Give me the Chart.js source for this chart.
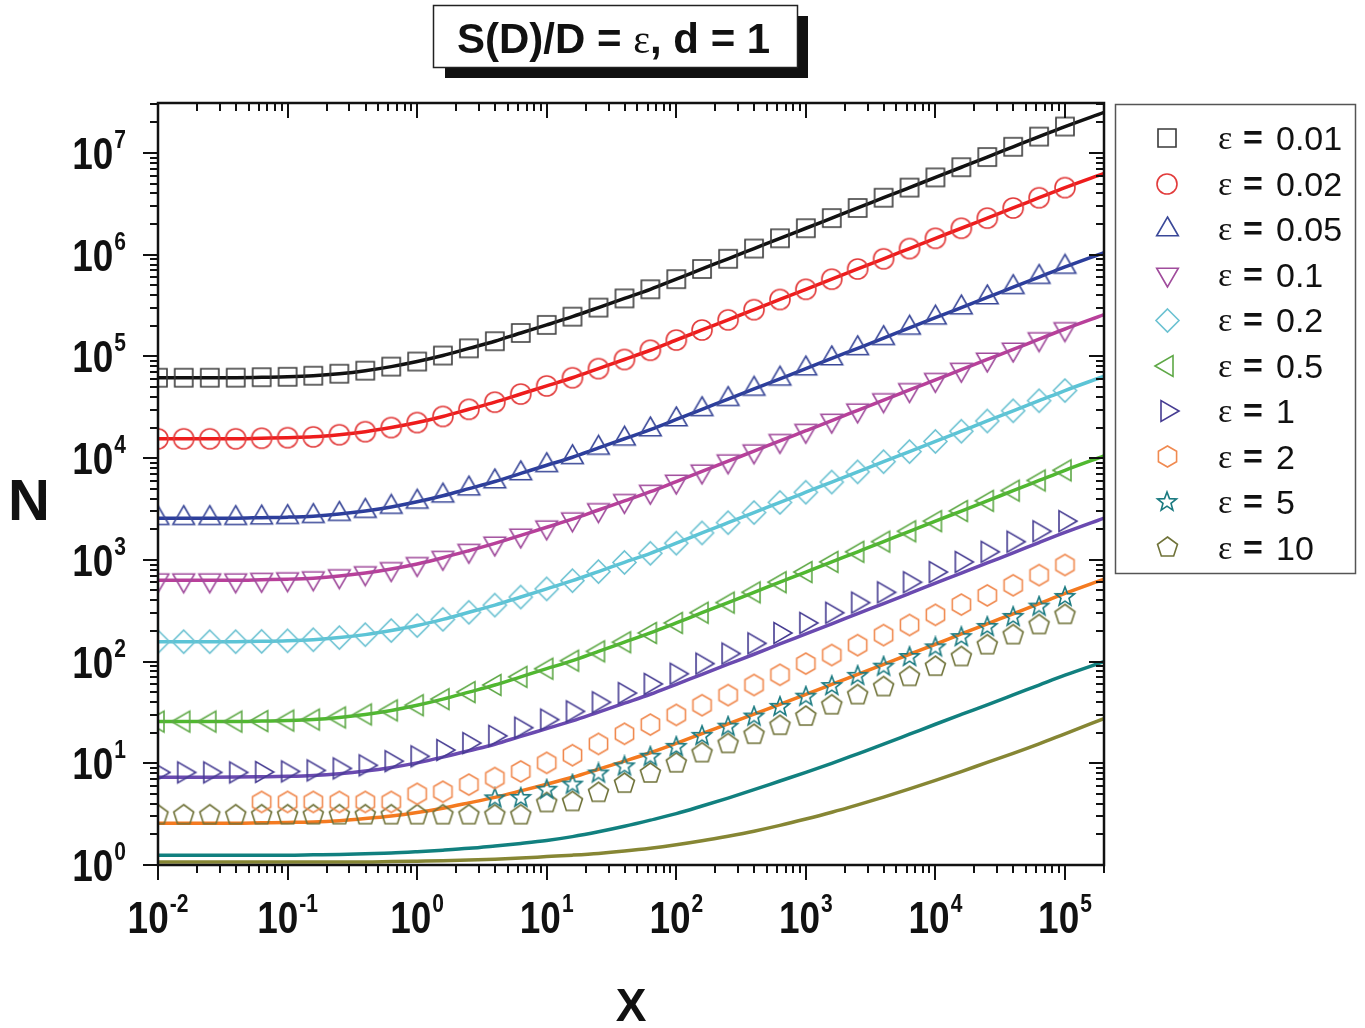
<!DOCTYPE html>
<html>
<head>
<meta charset="utf-8">
<title>S(D)/D = ε, d = 1</title>
<script src="https://cdn.jsdelivr.net/npm/chart.js@4.4.0/dist/chart.umd.min.js"></script>
<style>
  html, body { margin: 0; padding: 0; background: #fff; }
  #wrap { width: 1365px; height: 1028px; }
</style>
</head>
<body>
<div id="wrap"><canvas id="nChart" width="1365" height="1028"></canvas></div>
<script>
// x of the simulated points (0.2 decade steps), last value = right edge of the curves
var xValues = [0.01, 0.0158, 0.0251, 0.0398, 0.0631, 0.1, 0.158, 0.251, 0.398, 0.631,
  1, 1.58, 2.51, 3.98, 6.31, 10, 15.8, 25.1, 39.8, 63.1,
  100, 158, 251, 398, 631, 1000, 1585, 2512, 3981, 6310,
  10000, 15849, 25119, 39811, 63096, 100000, 200000];

var xTickExps = [-2, -1, 0, 1, 2, 3, 4, 5];
var yTickExps = [0, 1, 2, 3, 4, 5, 6, 7];
var epsLabels = ['0.01', '0.02', '0.05', '0.1', '0.2', '0.5', '1', '2', '5', '10'];

// curves with markers on them (eps = 0.01 ... 0.5)
var nEps001 = [61700, 61700, 61700, 61800, 62400, 63100, 64600, 67600, 72400, 79400, 89100, 102000, 120000, 141000, 170000, 204000, 246000, 302000, 372000, 457000, 575000, 724000, 912000, 1150000, 1450000, 1820000, 2290000, 2880000, 3630000, 4570000, 5750000, 7240000, 9120000, 11500000, 14500000, 18200000, 25100000];
var nEps002 = [15500, 15500, 15500, 15500, 15700, 15900, 16200, 17000, 18200, 20000, 22400, 25700, 30200, 35500, 42700, 51300, 61700, 75900, 93300, 115000, 145000, 182000, 229000, 288000, 363000, 457000, 575000, 724000, 912000, 1150000, 1450000, 1820000, 2290000, 2880000, 3630000, 4570000, 6310000];
var nEps005 = [2570, 2570, 2570, 2570, 2600, 2630, 2690, 2820, 3020, 3310, 3720, 4270, 5010, 5890, 7080, 8510, 10200, 12600, 15500, 19100, 24000, 30200, 38000, 47900, 60300, 75900, 95500, 120000, 151000, 191000, 240000, 302000, 380000, 479000, 603000, 759000, 1050000];
var nEps01 = [631, 631, 631, 631, 638, 646, 661, 692, 741, 813, 912, 1050, 1230, 1450, 1740, 2090, 2510, 3090, 3800, 4680, 5890, 7410, 9330, 11700, 14800, 18600, 23400, 29500, 37200, 46800, 58900, 74100, 93300, 117000, 148000, 186000, 257000];
var nEps02 = [157, 157, 157, 157, 158, 160, 164, 172, 184, 202, 226, 260, 305, 359, 431, 519, 624, 767, 944, 1160, 1460, 1840, 2320, 2920, 3670, 4620, 5820, 7330, 9230, 11600, 14600, 18400, 23200, 29200, 36700, 46200, 63800];
var nEps05 = [25.7, 25.7, 25.7, 25.7, 26.0, 26.3, 26.9, 28.2, 30.2, 33.1, 37.2, 42.7, 50.1, 58.9, 70.8, 85.1, 102, 126, 155, 191, 240, 302, 380, 479, 603, 759, 955, 1200, 1510, 1910, 2400, 3020, 3800, 4790, 6030, 7590, 10500];

// eps = 1, 2, 5, 10: markers and lines differ
var ptsEps1 = [8.13, 8.13, 8.13, 8.13, 8.22, 8.32, 8.51, 8.91, 9.55, 10.5, 11.7, 13.5, 15.8, 18.6, 22.4, 26.9, 32.4, 39.8, 49.0, 60.3, 75.9, 95.5, 120, 151, 191, 240, 302, 380, 479, 603, 759, 955, 1200, 1510, 1910, 2400];
var ptsEps2 = [4.17, 4.17, 4.17, 4.17, 4.17, 4.17, 5.01, 5.25, 6.17, 7.16, 8.32, 10.1, 12.0, 15.5, 19.5, 24.0, 29.9, 37.2, 46.8, 58.9, 74.1, 95.5, 116, 145, 182, 229, 288, 363, 447, 562, 708, 891];
var ptsEps5 = [4.52, 4.57, 5.50, 6.17, 7.94, 9.33, 11.6, 14.5, 18.6, 22.9, 28.8, 35.9, 45.2, 57.5, 72.4, 89.1, 111, 138, 174, 219, 275, 347, 432];
var ptsEps10 = [3.09, 3.09, 3.09, 3.09, 3.09, 3.09, 3.09, 3.09, 3.09, 3.09, 3.09, 3.09, 3.09, 3.09, 3.09, 4.07, 4.17, 5.13, 6.31, 7.94, 10.0, 12.6, 15.5, 19.1, 23.4, 28.8, 37.2, 46.8, 56.2, 70.8, 89.1, 111, 145, 182, 229, 288];

var lineEps1 = [7.30, 7.30, 7.30, 7.31, 7.37, 7.45, 7.60, 7.91, 8.40, 9.11, 10.1, 11.5, 13.3, 15.4, 18.4, 21.9, 26.1, 31.9, 39.0, 47.7, 59.8, 75.0, 94.2, 118, 149, 187, 235, 296, 372, 468, 589, 741, 933, 1170, 1480, 1860, 2570];
var lineEps2 = [2.58, 2.58, 2.58, 2.58, 2.60, 2.62, 2.65, 2.73, 2.86, 3.03, 3.28, 3.62, 4.08, 4.62, 5.35, 6.23, 7.29, 8.74, 10.5, 12.7, 15.7, 19.6, 24.4, 30.4, 38.0, 47.6, 59.7, 74.9, 94.0, 118, 148, 187, 235, 295, 371, 467, 645];
var lineEps5 = [1.25, 1.25, 1.25, 1.25, 1.25, 1.25, 1.26, 1.27, 1.29, 1.31, 1.35, 1.40, 1.46, 1.54, 1.63, 1.74, 1.90, 2.12, 2.40, 2.76, 3.20, 3.80, 4.55, 5.50, 6.70, 8.15, 10.0, 12.4, 15.4, 19.3, 24.2, 30.2, 37.6, 47.0, 58.8, 73.5, 100];
var lineEps10 = [1.07, 1.07, 1.07, 1.07, 1.07, 1.07, 1.07, 1.07, 1.07, 1.08, 1.09, 1.10, 1.12, 1.14, 1.17, 1.21, 1.25, 1.30, 1.37, 1.46, 1.58, 1.73, 1.92, 2.15, 2.45, 2.83, 3.30, 3.90, 4.65, 5.60, 6.79, 8.29, 10.2, 12.5, 15.5, 19.5, 27.5];

var FONT = '"Liberation Sans", Arial, Helvetica, sans-serif';

function toPoints(xs, ys) {
    var out = [];
    for (var i = 0; i < ys.length; i++) {
        out.push({ x: xs[i], y: ys[i] });
    }
    return out;
}

// hollow marker drawn on a small canvas, used as pointStyle
function makeMarker(shape, color, r) {
    var c = document.createElement('canvas');
    var s = Math.ceil(2 * r + 4);
    c.width = s;
    c.height = s;
    var g = c.getContext('2d');
    var m = s / 2;
    g.strokeStyle = color;
    g.lineWidth = 1.6;
    g.lineJoin = 'miter';
    g.beginPath();
    function poly(n, start, rad) {
        for (var i = 0; i < n; i++) {
            var a = start + i * 2 * Math.PI / n;
            var px = m + rad * Math.cos(a), py = m + rad * Math.sin(a);
            if (i === 0) g.moveTo(px, py); else g.lineTo(px, py);
        }
        g.closePath();
    }
    if (shape === 'square') {
        g.rect(m - r, m - r, 2 * r, 2 * r);
    } else if (shape === 'circle') {
        g.arc(m, m, r, 0, 2 * Math.PI);
    } else if (shape === 'up') {
        poly(3, -Math.PI / 2, r);
    } else if (shape === 'down') {
        poly(3, Math.PI / 2, r);
    } else if (shape === 'left') {
        poly(3, Math.PI, r);
    } else if (shape === 'right') {
        poly(3, 0, r);
    } else if (shape === 'diamond') {
        poly(4, -Math.PI / 2, r);
    } else if (shape === 'hexagon') {
        poly(6, -Math.PI / 2, r);
    } else if (shape === 'pentagon') {
        poly(5, -Math.PI / 2, r);
    } else if (shape === 'star') {
        for (var i = 0; i < 10; i++) {
            var a = -Math.PI / 2 + i * Math.PI / 5;
            var rr = i % 2 === 0 ? r : r * 0.42;
            var px = m + rr * Math.cos(a), py = m + rr * Math.sin(a);
            if (i === 0) g.moveTo(px, py); else g.lineTo(px, py);
        }
        g.closePath();
    }
    g.stroke();
    return c;
}

var markers = [
    makeMarker('square', '#3a3a3a', 9),
    makeMarker('circle', '#e23b3b', 10),
    makeMarker('up', '#3a4898', 12.5),
    makeMarker('down', '#a04c9c', 12.5),
    makeMarker('diamond', '#6cc2d2', 11.5),
    makeMarker('left', '#5ea846', 12),
    makeMarker('right', '#463c92', 12),
    makeMarker('hexagon', '#f08a50', 10.5),
    makeMarker('star', '#1a7a80', 10),
    makeMarker('pentagon', '#6f7238', 10.5)
];

var lineColors = ['#111111', '#ee1c1c', '#2c3e9c', '#b8409a', '#5cc4d6', '#50b830',
                  '#6a4ab0', '#f47a20', '#11807f', '#868634'];

function withLine(ys, i) {
    return {
        data: toPoints(xValues, ys),
        showLine: true,
        borderColor: lineColors[i],
        borderWidth: 3.5,
        pointStyle: markers[i],
        pointRadius: function (ctx) { return ctx.dataIndex < 36 ? 10 : 0; },
        cubicInterpolationMode: 'monotone',
        fill: false,
        clip: 0
    };
}

function onlyMarkers(xs, ys, i) {
    return {
        data: toPoints(xs, ys),
        showLine: false,
        pointStyle: markers[i],
        pointRadius: 10,
        clip: 0
    };
}

function onlyLine(ys, i) {
    return {
        data: toPoints(xValues, ys),
        showLine: true,
        borderColor: lineColors[i],
        borderWidth: 3.5,
        pointRadius: 0,
        cubicInterpolationMode: 'monotone',
        fill: false,
        clip: 0
    };
}

function powLabel(ctx, exp, x, baseline, align) {
    var sx = 0.84;
    ctx.font = 'bold 44px ' + FONT;
    var wb = ctx.measureText('10').width * sx;
    ctx.font = 'bold 25px ' + FONT;
    var es = String(exp);
    var we = ctx.measureText(es).width * sx;
    var total = wb + 1 + we;
    var x0 = align === 'center' ? x - total / 2 : x - total;
    ctx.save();
    ctx.translate(x0, baseline);
    ctx.scale(sx, 1);
    ctx.textAlign = 'left';
    ctx.textBaseline = 'alphabetic';
    ctx.font = 'bold 44px ' + FONT;
    ctx.fillText('10', 0, 0);
    ctx.font = 'bold 25px ' + FONT;
    ctx.fillText(es, (wb + 1) / sx, -21);
    ctx.restore();
}

var decorations = {
    id: 'decorations',
    afterDraw: function (chart) {
        var ctx = chart.ctx, a = chart.chartArea;
        var xs = chart.scales.x, ys = chart.scales.y;
        ctx.save();
        ctx.fillStyle = '#111';
        ctx.strokeStyle = '#111';

        // ticks, log minors
        ctx.lineWidth = 2;
        ctx.beginPath();
        for (var n = -2; n <= 5; n++) {
            for (var m = 1; m <= 9; m++) {
                var v = m * Math.pow(10, n);
                if (v > xs.max) break;
                var px = Math.round(xs.getPixelForValue(v));
                var len = m === 1 ? 15 : 8;
                ctx.moveTo(px, a.bottom); ctx.lineTo(px, a.bottom + len);
                ctx.moveTo(px, a.top); ctx.lineTo(px, a.top + len);
            }
        }
        for (var n2 = 0; n2 <= 7; n2++) {
            for (var m2 = 1; m2 <= 9; m2++) {
                var v2 = m2 * Math.pow(10, n2);
                if (v2 > ys.max) break;
                var py = Math.round(ys.getPixelForValue(v2));
                var len2 = m2 === 1 ? 15 : 8;
                ctx.moveTo(a.left - len2, py); ctx.lineTo(a.left, py);
                ctx.moveTo(a.right - len2, py); ctx.lineTo(a.right, py);
            }
        }
        ctx.stroke();

        // frame
        ctx.lineWidth = 2.5;
        ctx.strokeRect(a.left, a.top, a.right - a.left, a.bottom - a.top);

        // tick labels
        xTickExps.forEach(function (e) {
            powLabel(ctx, e, xs.getPixelForValue(Math.pow(10, e)), 933, 'center');
        });
        yTickExps.forEach(function (e) {
            powLabel(ctx, e, 126, ys.getPixelForValue(Math.pow(10, e)) + 16, 'right');
        });

        // axis titles
        ctx.textBaseline = 'alphabetic';
        ctx.font = 'bold 58px ' + FONT;
        ctx.textAlign = 'left';
        ctx.fillText('N', 8, 520);
        ctx.font = 'bold 46px ' + FONT;
        ctx.textAlign = 'center';
        ctx.fillText('X', (a.left + a.right) / 2, 1021);

        // title box with shadow
        ctx.fillStyle = '#111';
        ctx.fillRect(445, 16, 363, 62);
        ctx.fillStyle = '#fff';
        ctx.fillRect(433, 5, 364, 62);
        ctx.lineWidth = 1.5;
        ctx.strokeStyle = '#222';
        ctx.strokeRect(433.5, 5.5, 364, 62);
        ctx.fillStyle = '#111';
        ctx.textAlign = 'left';
        var tx = 457;
        ctx.font = 'bold 42px ' + FONT;
        ctx.fillText('S(D)/D = ', tx, 53);
        tx += ctx.measureText('S(D)/D = ').width;
        ctx.font = '40px "Liberation Serif", "Times New Roman", serif';
        ctx.fillText('\u03b5', tx, 53);
        tx += ctx.measureText('\u03b5').width;
        ctx.font = 'bold 42px ' + FONT;
        ctx.fillText(', d = 1', tx, 53);

        // legend
        ctx.lineWidth = 1.5;
        ctx.strokeStyle = '#555';
        ctx.strokeRect(1115.5, 104.5, 240, 469);
        ctx.fillStyle = '#111';
        for (var i = 0; i < epsLabels.length; i++) {
            var ry = 138 + 45.5 * i;
            var mk = markers[i];
            ctx.drawImage(mk, Math.round(1167 - mk.width / 2), Math.round(ry - mk.height / 2));
            ctx.font = '34px "Liberation Serif", "Times New Roman", serif';
            ctx.fillText('\u03b5', 1218, ry + 11);
            ctx.font = 'bold 34px ' + FONT;
            ctx.fillText('=', 1243, ry + 11);
            ctx.font = '34px ' + FONT;
            ctx.fillText(epsLabels[i], 1276, ry + 12);
        }
        ctx.restore();
    }
};

var ctx = document.getElementById('nChart').getContext('2d');

new Chart(ctx, {
    type: 'line',
    data: {
        datasets: [
            withLine(nEps001, 0),
            withLine(nEps002, 1),
            withLine(nEps005, 2),
            withLine(nEps01, 3),
            withLine(nEps02, 4),
            withLine(nEps05, 5),
            onlyMarkers(xValues, ptsEps1, 6),
            onlyMarkers(xValues.slice(4), ptsEps2, 7),
            onlyMarkers(xValues.slice(13), ptsEps5, 8),
            onlyMarkers(xValues, ptsEps10, 9),
            onlyLine(lineEps1, 6),
            onlyLine(lineEps2, 7),
            onlyLine(lineEps5, 8),
            onlyLine(lineEps10, 9)
        ]
    },
    options: {
        responsive: false,
        animation: false,
        events: [],
        layout: { padding: { left: 158, right: 261, top: 103, bottom: 163 } },
        plugins: {
            legend: { display: false },
            tooltip: { enabled: false },
            title: { display: false }
        },
        scales: {
            x: { type: 'logarithmic', display: false, min: 0.01, max: 200000 },
            y: { type: 'logarithmic', display: false, min: 1, max: 31000000 }
        }
    },
    plugins: [decorations]
});
</script>
</body>
</html>
